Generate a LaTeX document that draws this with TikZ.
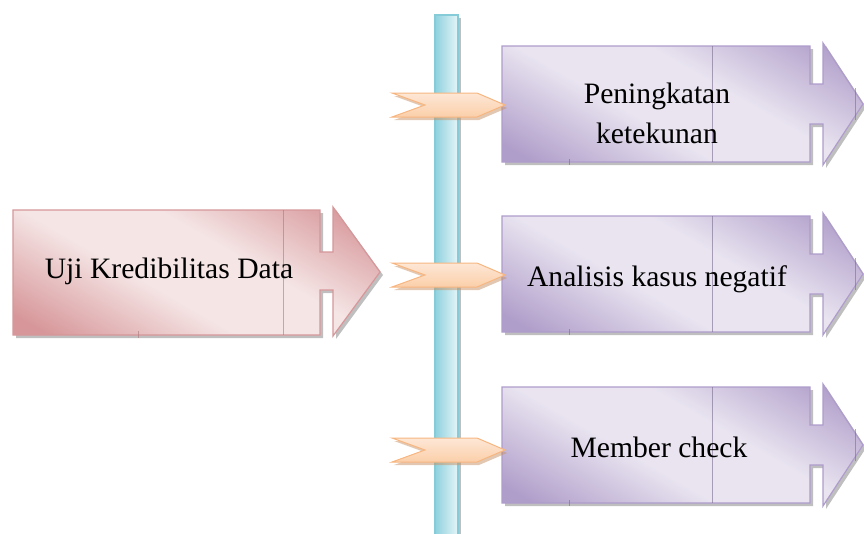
\documentclass[tikz,border=0pt]{standalone}
\usepackage{fontspec}
\setmainfont{Liberation Serif}
\usetikzlibrary{calc}

\definecolor{pinkline}{HTML}{D6979A}
\definecolor{pinkdark}{HTML}{D7979A}
\definecolor{pinklight}{HTML}{F5E5E5}
\definecolor{purpleline}{HTML}{AE9CCB}
\definecolor{purpledark}{HTML}{B09ECA}
\definecolor{purplelight}{HTML}{E9E4F0}
\definecolor{blueline}{HTML}{86CBD8}
\definecolor{bluedark}{HTML}{8FD1DE}
\definecolor{bluelight}{HTML}{E4F5F8}
\definecolor{peachline}{HTML}{F7B680}
\definecolor{peachdark}{HTML}{FBCFA9}
\definecolor{peachlight}{HTML}{FDE7D6}

\pgfdeclarehorizontalshading{pinkband}{100bp}{color(0bp)=(pinkdark); color(20bp)=(pinkdark); color(42bp)=(pinklight); color(58bp)=(pinklight); color(80bp)=(pinkdark); color(100bp)=(pinkdark)}
\pgfdeclarehorizontalshading{purpleband}{100bp}{color(0bp)=(purpledark); color(20bp)=(purpledark); color(42bp)=(purplelight); color(58bp)=(purplelight); color(80bp)=(purpledark); color(100bp)=(purpledark)}

\begin{document}
\begin{tikzpicture}[x=1pt,y=-1pt,
    boxtext/.style={font=\fontsize{29.6}{40}\selectfont,inner sep=0pt},
    dropshadow/.style={fill=black!50,opacity=.5,xshift=3pt,yshift=-3pt},
    faint/.style={line width=.5pt,opacity=.6}]
    \useasboundingbox (0,0) rectangle (864,533);
    % vertical bar
    \fill[dropshadow] (435,15) rectangle (458,540);
    \shade[left color=bluedark,right color=bluelight,draw=blueline,line width=1.2pt] (435,15) rectangle (458,540);
    % left arrow
    \fill[dropshadow] (13,210)--(320,210)--(320,252)--(333,252)--(333,207)--(380,272)--(333,336)--(333,290)--(320,290)--(320,335)--(13,335)--cycle;
    \shade[shading=pinkband,shading angle=60,draw=pinkline,line width=1.2pt] (13,210)--(320,210)--(320,252)--(333,252)--(333,207)--(380,272)--(333,336)--(333,290)--(320,290)--(320,335)--(13,335)--cycle;
    \draw[faint,pinkline!80!black] (283,210)--(283,335);
    \draw[faint,pinkline!80!black] (138,331)--(138,338);
    % right arrows
    \foreach \c in {104,274,445}{
        \fill[dropshadow] (502,\c-58)--(810,\c-58)--(810,\c-20)--(823,\c-20)--(823,\c-61)--(863,\c)--(823,\c+61)--(823,\c+20)--(810,\c+20)--(810,\c+58)--(502,\c+58)--cycle;
        \shade[shading=purpleband,shading angle=60,draw=purpleline,line width=1.2pt] (502,\c-58)--(810,\c-58)--(810,\c-20)--(823,\c-20)--(823,\c-61)--(863,\c)--(823,\c+61)--(823,\c+20)--(810,\c+20)--(810,\c+58)--(502,\c+58)--cycle;
        \draw[faint,purpleline!70!black] (712,\c-58)--(712,\c+58);
        \draw[faint,purpleline!70!black] (855,\c-16)--(855,\c+16);
        \draw[faint,purpleline!70!black] (569,\c+55)--(569,\c+61);
    }
    % chevrons
    \foreach \c in {105,275,450}{
        \fill[fill=peachline!80!black,opacity=.5,xshift=2pt,yshift=-3pt] (392,\c-12)--(477,\c-12)--(505,\c)--(477,\c+12)--(392,\c+12)--(425,\c)--cycle;
        \shade[top color=peachlight,bottom color=peachdark,draw=peachline,line width=1pt] (392,\c-12)--(477,\c-12)--(505,\c)--(477,\c+12)--(392,\c+12)--(425,\c)--cycle;
    }
    % labels
    \node[boxtext,anchor=base] (uji) at (169,278) {Uji Kredibilitas Data};
    \node[boxtext,align=center] (tekun) at (657,113) {Peningkatan\\ketekunan};
    \node[boxtext,anchor=base] (negatif) at (657,286) {Analisis kasus negatif};
    \node[boxtext,anchor=base] (member) at (659,457) {Member check};
\end{tikzpicture}
\end{document}
